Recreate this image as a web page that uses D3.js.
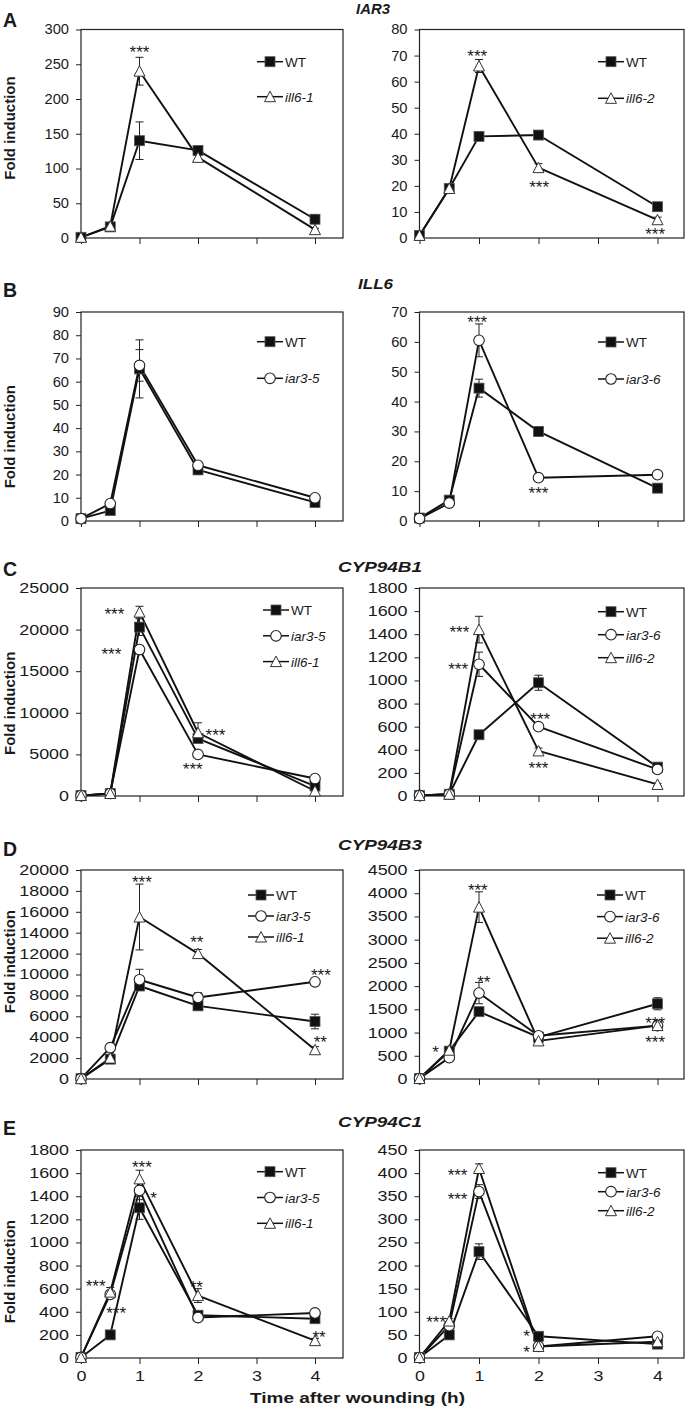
<!DOCTYPE html>
<html><head><meta charset="utf-8">
<script src="https://cdn.jsdelivr.net/npm/d3@7"></script>
<style>
body{margin:0;background:#fff}
svg{display:block}
text{font-family:"Liberation Sans",Arial,Helvetica,sans-serif;fill:#1a1a1a}
</style>
</head><body>
<svg id="chart" width="689" height="1410"></svg>
<script>
// ---------------- DATA ----------------
const times = [0, 0.5, 1, 2, 4];
const xTickValues = [0, 1, 2, 3, 4];
const geneTitles = ["IAR3", "ILL6", "CYP94B1", "CYP94B3", "CYP94C1"];
const panelLetters = ["A", "B", "C", "D", "E"];
const yAxisTitle = "Fold induction";
const xAxisTitle = "Time after wounding (h)";

// A left: IAR3, WT vs ill6-1
const A1_WT = [1, 16, 140, 126, 27];
const A1_WT_err = [0, 1, 27, 3, 2];
const A1_ill6_1 = [1, 17, 240, 116, 12];
const A1_ill6_1_err = [0, 1, 20, 3, 2];
const A1_stars = [{t: 1, v: 273, s: "***"}];

// A right: IAR3, WT vs ill6-2
const A2_WT = [1, 19, 39, 39.5, 12];
const A2_WT_err = [0, 0.8, 0.8, 0.8, 0.6];
const A2_ill6_2 = [1, 19, 66, 27, 7];
const A2_ill6_2_err = [0, 0.8, 2.5, 1.5, 1];
const A2_stars = [{t: 0.97, v: 71.2, s: "***"}, {t: 2.01, v: 21, s: "***"}, {t: 3.96, v: 2.8, s: "***"}];

// B left: ILL6, WT vs iar3-5
const B1_WT = [1, 4.5, 65.5, 22, 8];
const B1_WT_err = [0, 0.5, 12.5, 1, 0.5];
const B1_iar3_5 = [1, 7.5, 67, 24, 10];
const B1_iar3_5_err = [0, 0.5, 6.8, 1, 0.5];
const B1_stars = [];

// B right: ILL6, WT vs iar3-6
const B2_WT = [1, 7, 44.5, 30, 11];
const B2_WT_err = [0, 0.5, 3, 1.5, 0.5];
const B2_iar3_6 = [0.8, 6, 60.5, 14.5, 15.5];
const B2_iar3_6_err = [0, 0.3, 5.5, 0.5, 0.5];
const B2_stars = [{t: 0.97, v: 67.7, s: "***"}, {t: 2.0, v: 10.5, s: "***"}];

// C left: CYP94B1, WT / iar3-5 / ill6-1
const C1_WT = [50, 300, 20300, 6900, 1200];
const C1_WT_err = [0, 50, 1000, 300, 200];
const C1_iar3_5 = [50, 300, 17600, 5000, 2100];
const C1_iar3_5_err = [0, 50, 500, 200, 100];
const C1_ill6_1 = [50, 300, 22100, 7600, 600];
const C1_ill6_1_err = [0, 50, 700, 1200, 100];
const C1_stars = [{t: 0.57, v: 22330, s: "***"}, {t: 0.52, v: 17545, s: "***"}, {t: 2.30, v: 7775, s: "***"}, {t: 1.91, v: 3708, s: "***"}];

// C right: CYP94B1, WT / iar3-6 / ill6-2
const C2_WT = [5, 15, 530, 980, 250];
const C2_WT_err = [0, 3, 20, 65, 15];
const C2_iar3_6 = [5, 15, 1140, 600, 230];
const C2_iar3_6_err = [0, 3, 105, 25, 15];
const C2_ill6_2 = [5, 15, 1440, 390, 100];
const C2_ill6_2_err = [0, 3, 115, 25, 10];
const C2_stars = [{t: 0.67, v: 1447, s: "***"}, {t: 0.65, v: 1126, s: "***"}, {t: 2.03, v: 700, s: "***"}, {t: 2.0, v: 272, s: "***"}];

// D left: CYP94B3, WT / iar3-5 / ill6-1
const D1_WT = [30, 1900, 8900, 7000, 5500];
const D1_WT_err = [0, 100, 300, 300, 700];
const D1_iar3_5 = [30, 3000, 9500, 7800, 9300];
const D1_iar3_5_err = [0, 150, 1000, 450, 200];
const D1_ill6_1 = [30, 2000, 15500, 12000, 2800];
const D1_ill6_1_err = [0, 150, 3150, 400, 300];
const D1_stars = [{t: 1.04, v: 19200, s: "***"}, {t: 1.98, v: 13470, s: "**"}, {t: 4.1, v: 10290, s: "***"}, {t: 4.09, v: 3917, s: "**"}];

// D right: CYP94B3, WT / iar3-6 / ill6-2
const D2_WT = [10, 600, 1450, 900, 1620];
const D2_WT_err = [0, 40, 60, 40, 130];
const D2_iar3_6 = [10, 460, 1850, 930, 1150];
const D2_iar3_6_err = [0, 30, 230, 50, 50];
const D2_ill6_2 = [10, 620, 3700, 820, 1150];
const D2_ill6_2_err = [0, 60, 330, 40, 50];
const D2_stars = [{t: 0.27, v: 666, s: "*"}, {t: 0.98, v: 4140, s: "***"}, {t: 1.08, v: 2156, s: "**"}, {t: 3.96, v: 1289, s: "***"}, {t: 3.96, v: 881, s: "***"}];

// E left: CYP94C1, WT / iar3-5 / ill6-1
const E1_WT = [5, 200, 1300, 370, 340];
const E1_WT_err = [0, 15, 100, 20, 15];
const E1_iar3_5 = [5, 550, 1450, 350, 390];
const E1_iar3_5_err = [0, 30, 80, 20, 20];
const E1_ill6_1 = [5, 570, 1550, 540, 150];
const E1_ill6_1_err = [0, 40, 75, 60, 20];
const E1_stars = [{t: 0.25, v: 657, s: "***"}, {t: 0.6, v: 423, s: "***"}, {t: 1.04, v: 1685, s: "***"}, {t: 1.24, v: 1411, s: "*"}, {t: 1.97, v: 642, s: "**"}, {t: 4.07, v: 216, s: "**"}];

// E right: CYP94C1, WT / iar3-6 / ill6-2
const E2_WT = [1, 50, 230, 47, 30];
const E2_WT_err = [0, 3, 17, 3, 2];
const E2_iar3_6 = [1, 70, 360, 25, 47];
const E2_iar3_6_err = [0, 4, 15, 2, 3];
const E2_ill6_2 = [1, 80, 410, 25, 35];
const E2_ill6_2_err = [0, 5, 10, 2, 2];
const E2_stars = [{t: 0.28, v: 85, s: "***"}, {t: 0.64, v: 404.5, s: "***"}, {t: 0.64, v: 352.5, s: "***"}, {t: 1.8, v: 56, s: "*"}, {t: 1.8, v: 20, s: "*"}];

// y-axis maxima and steps (tick labels)
const yMaxes = {A1: 300, A2: 80, B1: 90, B2: 70, C1: 25000, C2: 1800, D1: 20000, D2: 4500, E1: 1800, E2: 450};
const ySteps = {A1: 50, A2: 10, B1: 10, B2: 10, C1: 5000, C2: 200, D1: 2000, D2: 500, E1: 200, E2: 50};

const panels = [
  {key: "A1", row: 0, col: 0, stars: A1_stars, series: [
    {name: "WT", kind: "sq", v: A1_WT, e: A1_WT_err},
    {name: "ill6-1", kind: "tri", v: A1_ill6_1, e: A1_ill6_1_err}]},
  {key: "A2", row: 0, col: 1, stars: A2_stars, series: [
    {name: "WT", kind: "sq", v: A2_WT, e: A2_WT_err},
    {name: "ill6-2", kind: "tri", v: A2_ill6_2, e: A2_ill6_2_err}]},
  {key: "B1", row: 1, col: 0, stars: B1_stars, series: [
    {name: "WT", kind: "sq", v: B1_WT, e: B1_WT_err},
    {name: "iar3-5", kind: "circ", v: B1_iar3_5, e: B1_iar3_5_err}]},
  {key: "B2", row: 1, col: 1, stars: B2_stars, series: [
    {name: "WT", kind: "sq", v: B2_WT, e: B2_WT_err},
    {name: "iar3-6", kind: "circ", v: B2_iar3_6, e: B2_iar3_6_err}]},
  {key: "C1", row: 2, col: 0, stars: C1_stars, series: [
    {name: "WT", kind: "sq", v: C1_WT, e: C1_WT_err},
    {name: "iar3-5", kind: "circ", v: C1_iar3_5, e: C1_iar3_5_err},
    {name: "ill6-1", kind: "tri", v: C1_ill6_1, e: C1_ill6_1_err}]},
  {key: "C2", row: 2, col: 1, stars: C2_stars, series: [
    {name: "WT", kind: "sq", v: C2_WT, e: C2_WT_err},
    {name: "iar3-6", kind: "circ", v: C2_iar3_6, e: C2_iar3_6_err},
    {name: "ill6-2", kind: "tri", v: C2_ill6_2, e: C2_ill6_2_err}]},
  {key: "D1", row: 3, col: 0, stars: D1_stars, series: [
    {name: "WT", kind: "sq", v: D1_WT, e: D1_WT_err},
    {name: "iar3-5", kind: "circ", v: D1_iar3_5, e: D1_iar3_5_err},
    {name: "ill6-1", kind: "tri", v: D1_ill6_1, e: D1_ill6_1_err}]},
  {key: "D2", row: 3, col: 1, stars: D2_stars, series: [
    {name: "WT", kind: "sq", v: D2_WT, e: D2_WT_err},
    {name: "iar3-6", kind: "circ", v: D2_iar3_6, e: D2_iar3_6_err},
    {name: "ill6-2", kind: "tri", v: D2_ill6_2, e: D2_ill6_2_err}]},
  {key: "E1", row: 4, col: 0, stars: E1_stars, series: [
    {name: "WT", kind: "sq", v: E1_WT, e: E1_WT_err},
    {name: "iar3-5", kind: "circ", v: E1_iar3_5, e: E1_iar3_5_err},
    {name: "ill6-1", kind: "tri", v: E1_ill6_1, e: E1_ill6_1_err}]},
  {key: "E2", row: 4, col: 1, stars: E2_stars, series: [
    {name: "WT", kind: "sq", v: E2_WT, e: E2_WT_err},
    {name: "iar3-6", kind: "circ", v: E2_iar3_6, e: E2_iar3_6_err},
    {name: "ill6-2", kind: "tri", v: E2_ill6_2, e: E2_ill6_2_err}]}
];

// ---------------- LAYOUT ----------------
const cols = [{x0: 81, x4: 315, right: 343}, {x0: 419.5, x4: 657.5, right: 684}];
const rows = [
  {top: 29.5, bottom: 238, hs: 1.05, letterY: 27.3, titleY: 14, titleX: 356, titleLen: 34, ylabY: 128},
  {top: 312, bottom: 521, hs: 1.05, letterY: 296.7, titleY: 289, titleX: 358, titleLen: 35, ylabY: 436.7},
  {top: 588, bottom: 796, hs: 1.28, letterY: 575.7, titleY: 571.7, titleX: 338, titleLen: 84, ylabY: 703.3},
  {top: 870, bottom: 1079, hs: 1.28, letterY: 855.7, titleY: 850, titleX: 338, titleLen: 84, ylabY: 961.7},
  {top: 1150, bottom: 1358, hs: 1.28, letterY: 1135, titleY: 1126.7, titleX: 338, titleLen: 84, ylabY: 1271.7}
];
const legendLayout = {
  A1: {x: 257, y: 61.7, dy: 35}, A2: {x: 598, y: 61.7, dy: 36.6},
  B1: {x: 257, y: 341.7, dy: 36.6}, B2: {x: 598, y: 342, dy: 37},
  C1: {x: 263, y: 610, dy: 25.8}, C2: {x: 598, y: 611.7, dy: 23},
  D1: {x: 248, y: 895, dy: 21}, D2: {x: 597, y: 895, dy: 21.6},
  E1: {x: 257, y: 1171.7, dy: 25.8}, E2: {x: 598, y: 1172.7, dy: 19}
};

const svg = d3.select("#chart");

function marker(g, kind, cx, cy) {
  if (kind === "sq") {
    g.append("rect").attr("x", cx - 5).attr("y", cy - 5).attr("width", 10).attr("height", 10)
      .attr("fill", "#111").attr("stroke", "#555").attr("stroke-width", 0.8);
  } else if (kind === "circ") {
    g.append("circle").attr("cx", cx).attr("cy", cy).attr("r", 5.3)
      .attr("fill", "#fff").attr("stroke", "#222").attr("stroke-width", 1.1);
  } else {
    const h = 10, w = 11;
    g.append("path").attr("d", `M${cx},${cy - h / 2 - 0.5}L${cx + w / 2},${cy + h / 2}L${cx - w / 2},${cy + h / 2}Z`)
      .attr("fill", "#fff").attr("stroke", "#333").attr("stroke-width", 1);
  }
}

function stretchText(sel, hs) {
  sel.each(function () {
    const t = d3.select(this);
    const x = +t.attr("x") || 0, y = +t.attr("y") || 0;
    t.attr("x", 0).attr("y", 0).attr("transform", `translate(${x},${y}) scale(${hs},1)`);
  });
}

panels.forEach(p => {
  const c = cols[p.col], r = rows[p.row];
  const x = d3.scaleLinear().domain([0, 4]).range([c.x0, c.x4]);
  const yMax = yMaxes[p.key], step = ySteps[p.key];
  const y = d3.scaleLinear().domain([0, yMax]).range([r.bottom, r.top]);
  const g = svg.append("g");

  // y axis
  const yAx = g.append("g").attr("transform", `translate(${c.x0},0)`)
    .call(d3.axisLeft(y).tickValues(d3.range(0, yMax + step / 2, step)).tickSize(5).tickPadding(7).tickFormat(d3.format("d")));
  yAx.select(".domain").remove();
  yAx.selectAll(".tick line").attr("stroke", "#222");
  yAx.selectAll(".tick text").attr("font-size", 14).attr("fill", "#1a1a1a")
    .attr("font-family", '"Liberation Sans",Arial,sans-serif');
  stretchText(yAx.selectAll(".tick text"), r.hs);

  // x axis
  const xAx = g.append("g").attr("transform", `translate(0,${r.bottom})`)
    .call(d3.axisBottom(x).tickValues(xTickValues).tickSize(6).tickPadding(7)
      .tickFormat(p.row === 4 ? d3.format("d") : () => ""));
  xAx.select(".domain").remove();
  xAx.selectAll(".tick line").attr("stroke", "#222");
  xAx.selectAll(".tick text").attr("font-size", 14).attr("fill", "#1a1a1a")
    .attr("font-family", '"Liberation Sans",Arial,sans-serif');
  if (p.row === 4) stretchText(xAx.selectAll(".tick text"), r.hs);

  // frame
  g.append("rect").attr("x", c.x0).attr("y", r.top).attr("width", c.right - c.x0).attr("height", r.bottom - r.top)
    .attr("fill", "none").attr("stroke", "#222").attr("stroke-width", 1.2);

  const line = d3.line().x((d, i) => x(times[i])).y(d => y(d));
  // lines
  p.series.forEach(s => {
    g.append("path").datum(s.v).attr("d", line).attr("fill", "none")
      .attr("stroke", "#111").attr("stroke-width", 1.9).attr("stroke-linejoin", "round");
  });
  // error bars
  p.series.forEach(s => {
    s.v.forEach((v, i) => {
      const e = s.e[i];
      if (!e) return;
      const cx = x(times[i]), y1 = y(v + e), y0 = y(Math.max(0, v - e));
      g.append("line").attr("x1", cx).attr("x2", cx).attr("y1", y1).attr("y2", y0).attr("stroke", "#222").attr("stroke-width", 1);
      [y1, y0].forEach(yy => g.append("line").attr("x1", cx - 4).attr("x2", cx + 4).attr("y1", yy).attr("y2", yy)
        .attr("stroke", "#222").attr("stroke-width", 1));
    });
  });
  // markers
  p.series.forEach(s => {
    s.v.forEach((v, i) => marker(g, s.kind, x(times[i]), y(v)));
  });
  // significance stars
  p.stars.forEach(st => {
    g.append("text").attr("x", x(st.t)).attr("y", y(st.v) + 9.5).attr("text-anchor", "middle")
      .attr("font-size", 17).attr("fill", "#333").text(st.s);
  });
  // legend
  const L = legendLayout[p.key];
  p.series.forEach((s, i) => {
    const ly = L.y + i * L.dy;
    g.append("line").attr("x1", L.x).attr("x2", L.x + 26).attr("y1", ly).attr("y2", ly)
      .attr("stroke", "#111").attr("stroke-width", 1.5);
    marker(g, s.kind, L.x + 13, ly);
    g.append("text").attr("x", L.x + 28).attr("y", ly + 5).attr("font-size", 13.5)
      .attr("font-style", s.name === "WT" ? "normal" : "italic").text(s.name);
  });
});

// row labels, gene titles, y-axis titles
rows.forEach((r, i) => {
  svg.append("text").attr("x", 3).attr("y", r.letterY).attr("font-size", 19.5).attr("font-weight", "bold").text(panelLetters[i]);
  svg.append("text").attr("x", r.titleX).attr("y", r.titleY).attr("font-size", 14).attr("font-weight", "bold")
    .attr("font-style", "italic").attr("textLength", r.titleLen).attr("lengthAdjust", "spacingAndGlyphs").text(geneTitles[i]);
  svg.append("text").attr("transform", `translate(14.5,${r.ylabY}) rotate(-90)`).attr("text-anchor", "middle")
    .attr("font-size", 15).attr("font-weight", "bold").text(yAxisTitle);
});

svg.append("text").attr("x", 357.5).attr("y", 1403).attr("text-anchor", "middle").attr("font-size", 14)
  .attr("font-weight", "bold").attr("textLength", 215).attr("lengthAdjust", "spacingAndGlyphs").text(xAxisTitle);
</script>
</body></html>
